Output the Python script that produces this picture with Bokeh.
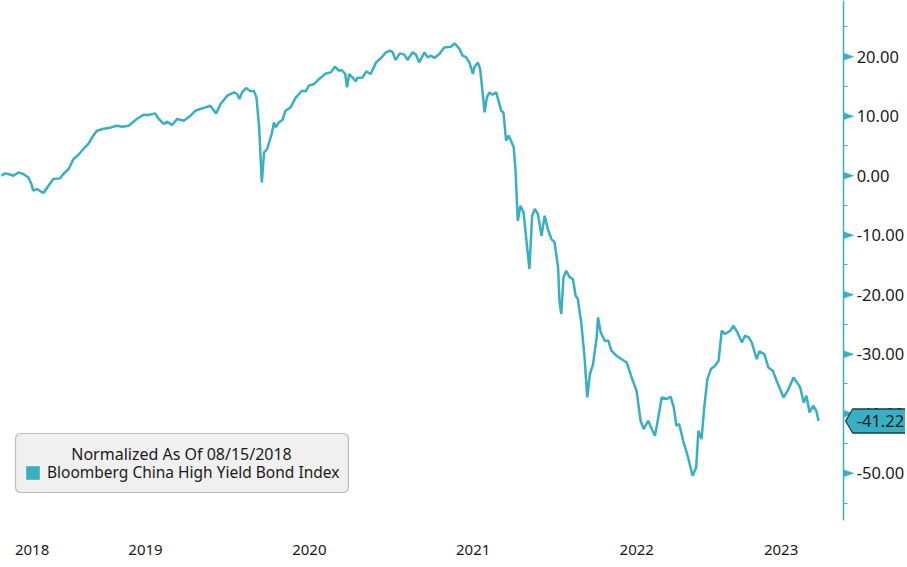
import numpy as np
import pandas as pd
from bokeh.plotting import figure
from bokeh.models import (Range1d, FixedTicker, NumeralTickFormatter, CustomJSTickFormatter,
                          Legend, LegendItem, BoxAnnotation, Label, PolyAnnotation)
from bokeh.embed import file_html
from bokeh.resources import INLINE

# ---------------- data ----------------
series_name = "Bloomberg China High Yield Bond Index"
legend_title = "Normalized As Of 08/15/2018"

dates = [
    "2018-08-15", "2018-08-23", "2018-08-30", "2018-09-11", "2018-09-22", "2018-10-03", "2018-10-14",
    "2018-10-21", "2018-10-25", "2018-11-02", "2018-11-17", "2018-11-28", "2018-12-09", "2018-12-24",
    "2018-12-31",
    "2019-01-12", "2019-01-23", "2019-02-03", "2019-02-14", "2019-02-25", "2019-03-08", "2019-03-16",
    "2019-03-31", "2019-04-15", "2019-04-29", "2019-05-12", "2019-05-26", "2019-06-13", "2019-06-28",
    "2019-07-09", "2019-07-24", "2019-08-01", "2019-08-12", "2019-08-19", "2019-08-31", "2019-09-11",
    "2019-09-26", "2019-10-11", "2019-10-22", "2019-11-02", "2019-11-13", "2019-11-24", "2019-12-07",
    "2019-12-17",
    "2020-01-01", "2020-01-16", "2020-01-23", "2020-01-28", "2020-02-03", "2020-02-12", "2020-02-22",
    "2020-02-29", "2020-03-06", "2020-03-12", "2020-03-18", "2020-03-23", "2020-03-30", "2020-04-09",
    "2020-04-14", "2020-04-18", "2020-04-25", "2020-05-03", "2020-05-10", "2020-05-21", "2020-06-02",
    "2020-06-09", "2020-06-16", "2020-06-24", "2020-07-01", "2020-07-13", "2020-07-24", "2020-08-08",
    "2020-08-19", "2020-08-28", "2020-09-06", "2020-09-12", "2020-09-20", "2020-09-24", "2020-09-29",
    "2020-10-06", "2020-10-14", "2020-10-17", "2020-10-29", "2020-11-06", "2020-11-16", "2020-11-28",
    "2020-12-09", "2020-12-20", "2020-12-29",
    "2021-01-04", "2021-01-10", "2021-01-20", "2021-01-30", "2021-02-06", "2021-02-17", "2021-02-25",
    "2021-03-04", "2021-03-16", "2021-03-23", "2021-03-31", "2021-04-07", "2021-04-18", "2021-04-29",
    "2021-05-14", "2021-05-22", "2021-06-02", "2021-06-09", "2021-06-17", "2021-06-24", "2021-07-02",
    "2021-07-05", "2021-07-13", "2021-07-18", "2021-07-24", "2021-07-28", "2021-08-02", "2021-08-08",
    "2021-08-15", "2021-08-23", "2021-08-29", "2021-09-03", "2021-09-08", "2021-09-14", "2021-09-20",
    "2021-09-25", "2021-10-01", "2021-10-05", "2021-10-10", "2021-10-16", "2021-10-23", "2021-10-29",
    "2021-11-05", "2021-11-11", "2021-11-17", "2021-11-24", "2021-12-02", "2021-12-09", "2021-12-16",
    "2021-12-24", "2021-12-31",
    "2022-01-08", "2022-01-11", "2022-01-15", "2022-01-20", "2022-01-26", "2022-02-03", "2022-02-10",
    "2022-02-16", "2022-02-21", "2022-03-01", "2022-03-08", "2022-03-14", "2022-03-20", "2022-03-27",
    "2022-04-04", "2022-04-07", "2022-04-13", "2022-04-22", "2022-04-30", "2022-05-07", "2022-05-18",
    "2022-05-29", "2022-06-10", "2022-06-21", "2022-07-02", "2022-07-11", "2022-07-18", "2022-07-28",
    "2022-08-05", "2022-08-12", "2022-08-17", "2022-08-27", "2022-09-07", "2022-09-16", "2022-09-23",
    "2022-09-29", "2022-10-05", "2022-10-14", "2022-10-25", "2022-11-04", "2022-11-12", "2022-11-17",
    "2022-11-24", "2022-11-30", "2022-12-07", "2022-12-15", "2022-12-24",
    "2023-01-01", "2023-01-08", "2023-01-16", "2023-01-27", "2023-02-03", "2023-02-12", "2023-02-22",
    "2023-03-01", "2023-03-09", "2023-03-16", "2023-03-27", "2023-04-02", "2023-04-13", "2023-04-22",
    "2023-05-02", "2023-05-12", "2023-05-26", "2023-06-06", "2023-06-17", "2023-06-25", "2023-07-02",
    "2023-07-10", "2023-07-16", "2023-07-23", "2023-07-31", "2023-08-07", "2023-08-12",
]

values = [
    0.00, 0.39, 0.29, 0.00, 0.55, 0.29, -0.29, -1.39, -2.52, -2.24, -2.91, -1.68, -0.55, -0.45, 0.29,
    1.13, 2.81, 3.53, 4.49, 5.33, 6.72, 7.56, 7.90, 8.07, 8.40, 8.24, 8.40, 9.53, 10.25, 10.20, 10.47,
    9.53, 8.69, 9.08, 8.52, 9.53, 9.24, 10.08, 10.92, 11.21, 11.48, 11.76, 10.47, 12.05,
    13.45, 14.00, 13.73, 12.89, 14.00, 14.74, 14.17, 14.29, 13.16, 8.12, -1.13, 3.92, 4.49, 7.01, 8.96,
    8.12, 8.96, 9.36, 10.92, 11.48, 13.16, 13.73, 14.29, 14.17, 15.13, 15.41, 16.25, 17.19, 17.36, 18.32,
    17.65, 17.76, 17.09, 14.84, 17.09, 16.52, 15.85, 16.42, 16.52, 17.53, 17.09, 19.04, 19.78, 20.72,
    21.01,
    20.72, 19.45, 20.55, 20.34, 19.45, 20.72, 20.34, 19.04, 20.72, 19.88, 20.17, 19.78, 20.45, 21.56,
    21.68, 22.24, 21.29, 20.17, 19.88, 19.04, 17.09, 18.20, 19.04, 17.93, 13.73, 10.64, 13.16, 14.00,
    13.61, 14.00, 12.32, 10.92, 10.64, 5.88, 6.72, 5.88, 4.76, 0.84, -7.56, -5.04, -6.20, -10.64,
    -15.68, -6.72, -5.60, -6.44, -10.08, -6.72, -8.96, -10.64, -11.21,
    -15.41, -21.01, -23.24, -17.09, -15.97, -17.09, -17.36, -20.17, -20.72, -24.92, -30.54, -37.26,
    -33.33, -31.65, -27.18, -23.82, -26.34, -27.73, -27.73, -29.41, -30.25, -30.81, -31.38, -33.90,
    -36.13, -41.18, -42.57, -41.18, -42.57, -43.70, -41.73, -37.26, -37.53, -37.14, -38.94, -42.02,
    -41.73, -44.54, -47.34, -50.42, -49.03, -42.86, -44.25, -38.94, -34.17, -32.49, -31.93,
    -31.09, -26.05, -26.60, -26.05, -25.21, -26.34, -28.02, -26.89, -27.18, -28.02, -30.81, -29.53,
    -29.97, -32.22, -32.77, -34.74, -37.26, -35.85, -33.90, -34.74, -35.58, -38.10, -36.97, -39.78,
    -38.66, -39.50, -41.22,
]

y_major_ticks = [-50, -40, -30, -20, -10, 0, 10, 20]
y_minor_ticks = [-55, -45, -35, -25, -15, -5, 5, 15, 25]
years = [2018, 2019, 2020, 2021, 2022, 2023]

# ---------------- style / layout ----------------
TEAL = "#38b0c4"
TEXT = "#1a1a1a"
FONT = "Noto Sans"
W, H = 905, 565

x_start = pd.Timestamp("2018-08-13")      # left edge of canvas
x_right = pd.Timestamp("2024-02-22")      # right edge of canvas
axis_date = pd.Timestamp("2023-10-07")    # where the value axis sits
y_lo, y_hi = -65.50, 29.44                # full canvas height
axis_bottom = -57.94                      # lower end of the value axis line
x_axis_level = -59.62                     # where the (hidden) time axis sits


def ms(ts):
    return ts.value / 1e6


x0_ms, x1_ms, ax_ms = ms(x_start), ms(x_right), ms(axis_date)
ms_per_px = (x1_ms - x0_ms) / W
u_per_px = (y_hi - y_lo) / H


def px_x(px):
    return x0_ms + px * ms_per_px


def px_y(py):
    return y_hi - py * u_per_px


p = figure(width=W, height=H, output_backend="svg", toolbar_location=None,
           x_axis_type="datetime", y_axis_location="right",
           x_range=Range1d(x_start, x_right), y_range=Range1d(y_lo, y_hi),
           min_border_left=0, min_border_top=0, min_border_bottom=0, min_border_right=0)
p.background_fill_color = "white"
p.border_fill_color = "white"
p.outline_line_color = None
p.xgrid.grid_line_color = None
p.ygrid.grid_line_color = None

# time axis: year labels centred in the visible part of each year
year_pos = []
for yr in years:
    a = max(pd.Timestamp(f"{yr}-01-01"), x_start)
    b = min(pd.Timestamp(f"{yr + 1}-01-01"), axis_date)
    year_pos.append((ms(a) + ms(b)) / 2)
xa = p.xaxis[0]
xa.fixed_location = x_axis_level
xa.ticker = FixedTicker(ticks=year_pos, minor_ticks=[])
xa.formatter = CustomJSTickFormatter(code="return String(new Date(tick).getUTCFullYear());")
xa.axis_line_color = None
xa.major_tick_line_color = None
xa.minor_tick_line_color = None
xa.major_tick_out = 0
xa.minor_tick_out = 0
xa.major_label_standoff = 14
xa.major_label_text_font = FONT
xa.major_label_text_font_size = "15px"
xa.major_label_text_color = TEXT

# value axis on the right
ya = p.yaxis[0]
ya.fixed_location = ax_ms
ya.bounds = (axis_bottom, y_hi)
ya.ticker = FixedTicker(ticks=y_major_ticks, minor_ticks=y_minor_ticks)
ya.formatter = NumeralTickFormatter(format="0.00")
ya.axis_line_color = TEAL
ya.axis_line_width = 1.5
ya.major_tick_out = 0
ya.major_tick_in = 0
ya.minor_tick_out = 4
ya.minor_tick_in = 0
ya.minor_tick_line_color = TEAL
ya.minor_tick_line_width = 1.2
ya.major_label_standoff = 9
ya.major_label_text_font = FONT
ya.major_label_text_font_size = "16.5px"
ya.major_label_text_color = TEXT

# series
p.line(pd.to_datetime(dates), values, line_color=TEAL, line_width=2.5)

# triangle markers at the major ticks of the value axis
for v in y_major_ticks:
    tri = PolyAnnotation(xs=[ax_ms, ax_ms + 10 * ms_per_px, ax_ms],
                         ys=[v + 3.5 * u_per_px, v, v - 3.5 * u_per_px],
                         fill_color=TEAL, fill_alpha=1.0, line_color=TEAL, line_alpha=1.0,
                         line_width=0.5, level="overlay")
    p.add_layout(tri)

# last value callout
last = values[-1]
hh = 12 * u_per_px
callout = PolyAnnotation(
    xs=[ax_ms + 2 * ms_per_px, ax_ms + 9 * ms_per_px, ax_ms + 80 * ms_per_px,
        ax_ms + 80 * ms_per_px, ax_ms + 9 * ms_per_px],
    ys=[last, last + hh, last + hh, last - hh, last - hh],
    fill_color=TEAL, fill_alpha=1.0, line_color="#1d3c42", line_alpha=1.0, line_width=1.3,
    level="overlay")
p.add_layout(callout)
p.add_layout(Label(x=ax_ms + 13 * ms_per_px, y=last, text=f"{last:.2f}",
                   text_align="left", text_baseline="middle", text_font=FONT,
                   text_font_size="16.5px", text_color=TEXT, level="overlay"))

# legend box
box = BoxAnnotation(left=px_x(15), right=px_x(348), top=px_y(433), bottom=px_y(492),
                    fill_color="#f0f0f0", fill_alpha=1.0, line_color="#3a3a3a", line_width=1.2,
                    border_radius=5)
p.add_layout(box)
p.add_layout(Label(x=px_x(181), y=px_y(453), text=legend_title, text_align="center",
                   text_baseline="middle", text_font=FONT, text_font_size="16px",
                   text_color=TEXT))

sq = p.quad(left=np.array([np.nan]), right=np.array([np.nan]), top=np.array([np.nan]),
            bottom=np.array([np.nan]), fill_color=TEAL, line_color=None)
legend = Legend(items=[LegendItem(label=series_name, renderers=[sq])],
                location=(24, H - 483), padding=0, margin=0, spacing=0,
                glyph_width=17, glyph_height=17, label_height=17, label_standoff=6,
                border_line_color=None, background_fill_alpha=0.0,
                label_text_font=FONT, label_text_font_size="15.5px", label_text_color=TEXT)
p.add_layout(legend)

open("out.html", "w").write(file_html(p, INLINE))
